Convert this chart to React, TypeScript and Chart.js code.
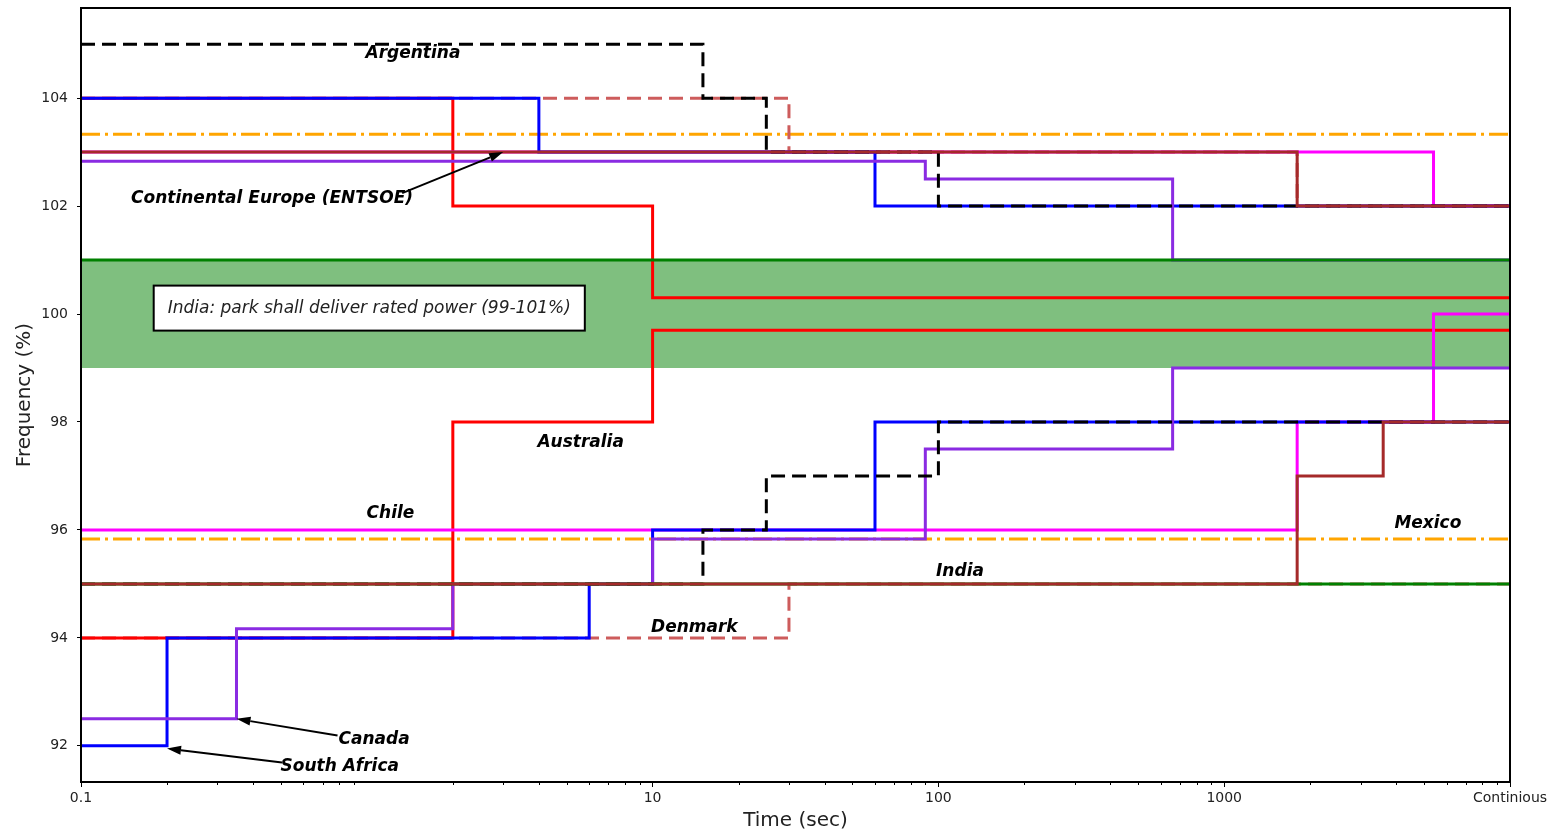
import React, { useEffect, useRef } from 'react';
import { Chart, registerables } from 'chart.js';

Chart.register(...registerables);

// ---------- axes ----------
const X_MIN = 0.1;
const X_MAX = 10000;
const Y_MIN = 91.33;
const Y_MAX = 105.67;
const X_TICKS = [0.1, 10, 100, 1000, 10000];
const X_TICK_LABELS = ['0.1', '10', '100', '1000', 'Continious'];
const Y_TICKS = [92, 94, 96, 98, 100, 102, 104];
const Y_TICK_LABELS = ['92', '94', '96', '98', '100', '102', '104'];
const MINOR_X_TICKS: number[] = [];
for (const decade of [0.1, 1, 10, 100, 1000]) {
  for (let m = 2; m <= 9; m++) MINOR_X_TICKS.push(Number((decade * m).toPrecision(3)));
}

// ---------- series (time in s, frequency in %) ----------
// Argentina (black dashed)
const argentinaUpperT = [0.1, 15, 25, 100, 10000];
const argentinaUpperV = [105, 104, 103, 102, 102];
const argentinaLowerT = [0.1, 15, 25, 100, 10000];
const argentinaLowerV = [95, 96, 97, 98, 98];
// Denmark (indianred dashed)
const denmarkUpperT = [0.1, 30, 1800, 10000];
const denmarkUpperV = [104, 103, 102, 102];
const denmarkLowerT = [0.1, 30, 10000];
const denmarkLowerV = [94, 95, 95];
// South Africa (blue)
const southAfricaUpperT = [0.1, 4, 60, 10000];
const southAfricaUpperV = [104, 103, 102, 102];
const southAfricaLowerT = [0.1, 0.2, 6, 10, 60, 10000];
const southAfricaLowerV = [92, 94, 95, 96, 98, 98];
// Australia (red)
const australiaUpperT = [0.1, 2, 10, 10000];
const australiaUpperV = [104, 102, 100.3, 100.3];
const australiaLowerT = [0.1, 2, 10, 10000];
const australiaLowerV = [94, 98, 99.7, 99.7];
// Canada (blueviolet)
const canadaUpperT = [0.1, 90, 660, 10000];
const canadaUpperV = [102.83, 102.5, 101, 101];
const canadaLowerT = [0.1, 0.35, 2, 10, 90, 660, 10000];
const canadaLowerV = [92.5, 94.17, 95, 95.83, 97.5, 99, 99];
// Chile (magenta)
const chileUpperT = [0.1, 5400, 10000];
const chileUpperV = [103, 102, 102];
const chileLowerT = [0.1, 1800, 5400, 10000];
const chileLowerV = [96, 98, 100, 100];
// Mexico (brown)
const mexicoUpperT = [0.1, 1800, 10000];
const mexicoUpperV = [103, 102, 102];
const mexicoLowerT = [0.1, 1800, 3600, 10000];
const mexicoLowerV = [95, 97, 98, 98];
// India (green) : rated-power band and limits
const indiaBandT = [0.1, 10000];
const indiaBandTop = [101, 101];
const indiaBandBottom = 99;
const indiaUpperT = [0.1, 10000];
const indiaUpperV = [101, 101];
const indiaLowerT = [0.1, 10000];
const indiaLowerV = [95, 95];
// Orange dash-dot limits
const orangeUpperT = [0.1, 10000];
const orangeUpperV = [103.33, 103.33];
const orangeLowerT = [0.1, 10000];
const orangeLowerV = [95.83, 95.83];

// ---------- annotations ----------
const LABEL_TEXTS = ['Argentina', 'Continental Europe (ENTSOE)', 'Australia', 'Chile', 'India', 'Denmark', 'Mexico', 'Canada', 'South Africa'];
const LABEL_X = [1.45, 0.466, 5.6, 1.21, 119, 14.0, 5160, 1.06, 0.804];
const LABEL_Y = [104.83, 102.13, 97.61, 96.31, 95.22, 94.2, 96.11, 92.11, 91.61];
const ARROW_FROM_X = [1.33, 0.79, 0.505];
const ARROW_FROM_Y = [102.24, 92.19, 91.69];
const ARROW_TO_X = [3.0, 0.35, 0.2];
const ARROW_TO_Y = [103.0, 92.5, 91.95];
const BOX_TEXT = 'India: park shall deliver rated power (99-101%)';
const BOX_X = 1.02;
const BOX_Y = 100.11;

const FONT = "'DejaVu Sans'";

function pts(t: number[], v: number[]) {
  return t.map((x, i) => ({ x, y: v[i] }));
}

function line(t: number[], v: number[], color: string, dash: number[] = []) {
  return {
    data: pts(t, v),
    borderColor: color,
    backgroundColor: color,
    borderWidth: 3,
    borderDash: dash,
    borderCapStyle: 'butt',
    borderJoinStyle: 'miter',
    pointRadius: 0,
    stepped: 'before',
    fill: false,
    tension: 0,
  };
}

function drawArrow(ctx: CanvasRenderingContext2D, x0: number, y0: number, x1: number, y1: number) {
  const ang = Math.atan2(y1 - y0, x1 - x0);
  const hl = 14;
  const hw = 4.5;
  const bx = x1 - hl * Math.cos(ang);
  const by = y1 - hl * Math.sin(ang);
  ctx.beginPath();
  ctx.moveTo(x0, y0);
  ctx.lineTo(bx, by);
  ctx.lineWidth = 2;
  ctx.strokeStyle = '#000';
  ctx.stroke();
  ctx.beginPath();
  ctx.moveTo(x1, y1);
  ctx.lineTo(bx + hw * Math.sin(ang), by - hw * Math.cos(ang));
  ctx.lineTo(bx - hw * Math.sin(ang), by + hw * Math.cos(ang));
  ctx.closePath();
  ctx.fillStyle = '#000';
  ctx.fill();
}

const overlayPlugin = {
  id: 'overlay',
  afterDraw(chart: any) {
    const { ctx, chartArea: a } = chart;
    const xs = chart.scales.x;
    const ys = chart.scales.y;
    ctx.save();
    // frame
    ctx.strokeStyle = '#000';
    ctx.lineWidth = 2;
    ctx.strokeRect(a.left, a.top, a.right - a.left, a.bottom - a.top);
    // minor ticks
    ctx.lineWidth = 1;
    ctx.beginPath();
    for (const v of MINOR_X_TICKS) {
      const px = Math.round(xs.getPixelForValue(v)) + 0.5;
      ctx.moveTo(px, a.bottom);
      ctx.lineTo(px, a.bottom + 3);
    }
    ctx.stroke();

    // text labels
    ctx.fillStyle = '#000';
    ctx.textAlign = 'center';
    ctx.textBaseline = 'middle';
    ctx.font = `italic bold 17px ${FONT}`;
    LABEL_TEXTS.forEach((t, i) => {
      ctx.fillText(t, xs.getPixelForValue(LABEL_X[i]), ys.getPixelForValue(LABEL_Y[i]));
    });
    // arrows
    ARROW_FROM_X.forEach((_, i) => {
      drawArrow(
        ctx,
        xs.getPixelForValue(ARROW_FROM_X[i]),
        ys.getPixelForValue(ARROW_FROM_Y[i]),
        xs.getPixelForValue(ARROW_TO_X[i]),
        ys.getPixelForValue(ARROW_TO_Y[i])
      );
    });

    // India box
    ctx.font = `italic 17px ${FONT}`;
    const bx = xs.getPixelForValue(BOX_X);
    const by = ys.getPixelForValue(BOX_Y);
    const w = ctx.measureText(BOX_TEXT).width + 28;
    const h = 45;
    ctx.fillStyle = '#fff';
    ctx.fillRect(bx - w / 2, by - h / 2, w, h);
    ctx.lineWidth = 2;
    ctx.strokeStyle = '#000';
    ctx.strokeRect(bx - w / 2, by - h / 2, w, h);
    ctx.fillStyle = '#222';
    ctx.fillText(BOX_TEXT, bx, by);

    // axis titles
    ctx.fillStyle = '#222';
    ctx.font = `20px ${FONT}`;
    ctx.fillText('Time (sec)', (a.left + a.right) / 2, 821);
    ctx.save();
    ctx.translate(25, (a.top + a.bottom) / 2);
    ctx.rotate(-Math.PI / 2);
    ctx.fillText('Frequency (%)', 0, 0);
    ctx.restore();

    ctx.restore();
  },
};

export default function App() {
  const ref = useRef<HTMLCanvasElement>(null);
  useEffect(() => {
    // bottom-most first
    const layers: any[] = [
      {
        data: pts(indiaBandT, indiaBandTop),
        borderWidth: 0,
        borderColor: 'rgba(0,0,0,0)',
        backgroundColor: 'rgba(0,128,0,0.5)',
        pointRadius: 0,
        fill: { value: indiaBandBottom },
      },
      line(orangeUpperT, orangeUpperV, '#FFA500', [19, 5, 3, 5]),
      line(orangeLowerT, orangeLowerV, '#FFA500', [19, 5, 3, 5]),
      line(denmarkUpperT, denmarkUpperV, '#CD5C5C', [14, 7]),
      line(denmarkLowerT, denmarkLowerV, '#CD5C5C', [14, 7]),
      line(australiaUpperT, australiaUpperV, '#FF0000'),
      line(australiaLowerT, australiaLowerV, '#FF0000'),
      line(chileUpperT, chileUpperV, '#FF00FF'),
      line(chileLowerT, chileLowerV, '#FF00FF'),
      line(southAfricaUpperT, southAfricaUpperV, '#0000FF'),
      line(southAfricaLowerT, southAfricaLowerV, '#0000FF'),
      line(canadaUpperT, canadaUpperV, '#8A2BE2'),
      line(canadaLowerT, canadaLowerV, '#8A2BE2'),
      line(argentinaUpperT, argentinaUpperV, '#000000', [14, 7]),
      line(argentinaLowerT, argentinaLowerV, '#000000', [14, 7]),
      line(indiaUpperT, indiaUpperV, '#008000'),
      line(indiaLowerT, indiaLowerV, '#008000'),
      line(mexicoUpperT, mexicoUpperV, '#A52A2A'),
      line(mexicoLowerT, mexicoLowerV, '#A52A2A'),
    ];
    const n = layers.length;
    const datasets = layers.map((d, i) => ({ ...d, order: n - i }));

    const tickFont = { family: 'DejaVu Sans', size: 14 };
    const chart = new Chart(ref.current as HTMLCanvasElement, {
      type: 'line',
      data: { datasets },
      options: {
        responsive: false,
        devicePixelRatio: 1,
        animation: false,
        events: [],
        layout: { padding: { top: 8, right: 47, left: 0, bottom: 0 } },
        plugins: { legend: { display: false }, tooltip: { enabled: false } },
        scales: {
          x: {
            type: 'logarithmic',
            min: X_MIN,
            max: X_MAX,
            afterBuildTicks: (s: any) => {
              s.ticks = X_TICKS.map((v) => ({ value: v }));
            },
            afterFit: (s: any) => {
              s.height = 49;
              s.paddingLeft = 0;
              s.paddingRight = 0;
            },
            ticks: {
              autoSkip: false,
              maxRotation: 0,
              minRotation: 0,
              padding: 3,
              color: '#222',
              font: tickFont,
              callback: (v: any) => X_TICK_LABELS[X_TICKS.indexOf(Number(v))] ?? '',
            },
            grid: { display: true, drawOnChartArea: false, drawTicks: true, tickLength: 5, color: '#000', lineWidth: 1 },
            border: { display: false },
          },
          y: {
            type: 'linear',
            min: Y_MIN,
            max: Y_MAX,
            afterBuildTicks: (s: any) => {
              s.ticks = Y_TICKS.map((v) => ({ value: v }));
            },
            afterFit: (s: any) => {
              s.width = 81;
              s.paddingTop = 0;
              s.paddingBottom = 0;
            },
            ticks: {
              padding: 9,
              color: '#222',
              font: tickFont,
              callback: (v: any) => Y_TICK_LABELS[Y_TICKS.indexOf(Number(v))] ?? '',
            },
            grid: { display: true, drawOnChartArea: false, drawTicks: true, tickLength: 4, color: '#000', lineWidth: 1 },
            border: { display: false },
          },
        },
      } as any,
      plugins: [overlayPlugin],
    });
    return () => chart.destroy();
  }, []);

  return (
    <div style={{ position: 'fixed', left: 0, top: 0, width: 1557, height: 831, background: '#fff' }}>
      <canvas ref={ref} width={1557} height={831} style={{ display: 'block', width: 1557, height: 831 }} />
    </div>
  );
}
